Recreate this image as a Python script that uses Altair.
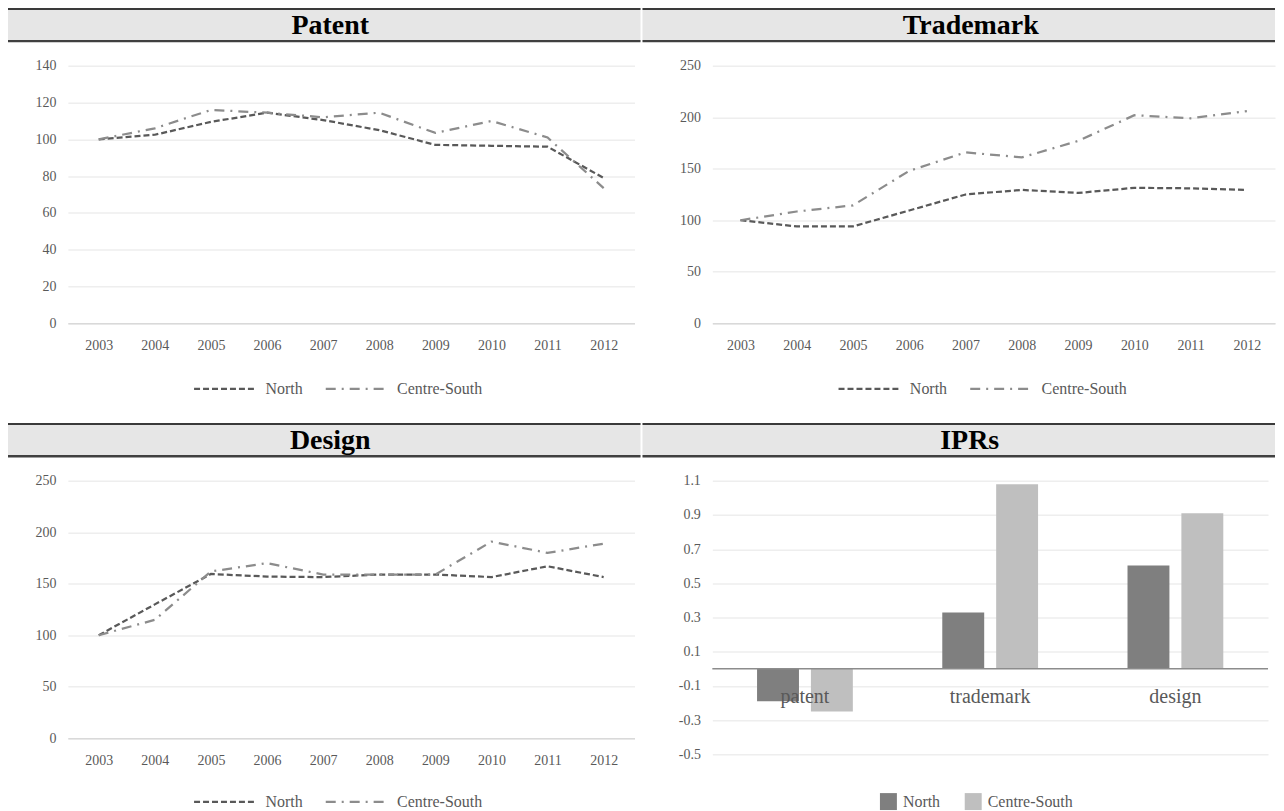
import altair as alt
import pandas as pd

years = [str(y) for y in range(2003, 2013)]
regions = ["North", "Centre-South"]

patent_north = [100, 102.5, 109.5, 114.5, 110.5, 105, 97, 96.5, 96, 79]
patent_cs = [100, 106, 116, 114.5, 112, 114.5, 103.5, 110, 101, 73.5]

trademark_north = [100, 94, 94, 109.5, 125, 129.5, 126.5, 131.5, 131, 129.5]
trademark_cs = [100, 108.5, 114.5, 148, 166, 161, 177, 202, 199, 206]

design_north = [100, 130, 159.5, 157, 156.5, 159, 159, 156.5, 167, 156.5]
design_cs = [100, 115, 162, 170, 159, 159, 159, 191, 180, 189]

categories = ["patent", "trademark", "design"]
ipr_north = [-0.19, 0.33, 0.605]
ipr_cs = [-0.25, 1.08, 0.91]
ipr_ticks = [-0.5, -0.3, -0.1, 0.1, 0.3, 0.5, 0.7, 0.9, 1.1]

FONT = "Liberation Serif"
LABEL = "#595959"
GRID = "#eeeeee"


def decor(title, L, T, W, H, title_rel):
    base = alt.Chart(pd.DataFrame({"title": [title]}))
    frame = base.mark_rect(opacity=0).encode(
        x=alt.value(-L), x2=alt.value(W - L), y=alt.value(-T), y2=alt.value(H - T))
    band = base.mark_rect(fill="#e6e6e6").encode(
        x=alt.value(-L), x2=alt.value(W - L), y=alt.value(-T), y2=alt.value(-T + 34))
    top = base.mark_rect(fill="#3a3a3a").encode(
        x=alt.value(-L), x2=alt.value(W - L), y=alt.value(-T), y2=alt.value(-T + 2))
    bot = base.mark_rect(fill="#404040").encode(
        x=alt.value(-L), x2=alt.value(W - L), y=alt.value(-T + 32), y2=alt.value(-T + 34.5))
    txt = base.mark_text(font=FONT, fontWeight="bold", fontSize=28, color="black",
                         baseline="middle", align="center").encode(
        text="title:N", x=alt.value(title_rel - L), y=alt.value(-T + 18))
    return [frame, band, top, bot, txt]


def line_panel(title, north, cs, ymax, ystep, L, T, W, H, pw, ph, pad, title_rel, leg_y):
    df = pd.DataFrame({
        "year": years * 2,
        "region": ["North"] * len(years) + ["Centre-South"] * len(years),
        "value": north + cs,
    })
    yvals = list(range(0, ymax + 1, ystep))
    leg = alt.Legend(title=None, orient="none", legendX=125, legendY=leg_y,
                     direction="horizontal", symbolType="stroke", symbolSize=3844,
                     symbolStrokeWidth=2.25, labelFont=FONT, labelFontSize=16,
                     labelColor=LABEL, labelOffset=8, columnPadding=18, padding=0)
    line = alt.Chart(df).mark_line(strokeWidth=2.25).encode(
        x=alt.X("year:O", sort=years, scale=alt.Scale(type="point", padding=pad),
                axis=alt.Axis(title=None, labelAngle=0, ticks=False, grid=False,
                              domainColor="#d9d9d9", domainWidth=1.5, labelPadding=15,
                              labelFontSize=14, labelColor=LABEL, labelFont=FONT)),
        y=alt.Y("value:Q", scale=alt.Scale(domain=[0, ymax], nice=False),
                axis=alt.Axis(title=None, values=yvals, tickCount=len(yvals),
                              domain=False, ticks=False, gridColor=GRID, gridWidth=1.5,
                              labelPadding=12, labelFontSize=14, labelColor=LABEL,
                              labelFont=FONT, labelOverlap=False)),
        color=alt.Color("region:N", scale=alt.Scale(domain=regions, range=["#595959", "#8c8c8c"]),
                        legend=leg),
        strokeDash=alt.StrokeDash("region:N", scale=alt.Scale(domain=regions,
                                                              range=[[6, 3], [10, 6, 2, 6]]),
                                  legend=leg),
    )
    layers = decor(title, L, T, W, H, title_rel) + [line]
    return alt.layer(*layers).properties(width=pw, height=ph)


def bar_panel(title, L, T, W, H, pw, ph, title_rel):
    bdf = pd.DataFrame({
        "category": categories * 2,
        "region": ["North"] * len(categories) + ["Centre-South"] * len(categories),
        "value": ipr_north + ipr_cs,
    })
    bars = alt.Chart(bdf).mark_bar().encode(
        x=alt.X("category:N", sort=categories, scale=alt.Scale(paddingInner=0, paddingOuter=0),
                axis=None),
        xOffset=alt.XOffset("region:N", sort=regions,
                            scale=alt.Scale(domain=regions, paddingInner=0.222, paddingOuter=0.83)),
        y=alt.Y("value:Q", scale=alt.Scale(domain=[-0.5, 1.1], nice=False, zero=False),
                axis=alt.Axis(title=None, values=ipr_ticks, tickCount=len(ipr_ticks),
                              domain=False, ticks=False,
                              gridColor=GRID, gridWidth=1.5, labelPadding=12,
                              labelFontSize=14, labelColor=LABEL, labelFont=FONT,
                              labelOverlap=False,
                              labelExpr="replace(format(datum.value, '.1f'), '\u2212', '-')")),
        color=alt.Color("region:N", scale=alt.Scale(domain=regions, range=["#7f7f7f", "#bfbfbf"]),
                        legend=alt.Legend(title=None, orient="none", legendX=168, legendY=313,
                                          direction="horizontal", symbolType="square",
                                          symbolSize=289, symbolStrokeWidth=0,
                                          labelFont=FONT, labelFontSize=16, labelColor=LABEL,
                                          labelOffset=6, columnPadding=24, padding=0)),
    )
    zero = alt.Chart(pd.DataFrame({"zero": [0]})).mark_rule(color="#8c8c8c", strokeWidth=1.5).encode(
        y="zero:Q")
    labels = alt.Chart(pd.DataFrame({"category": categories})).mark_text(
        dy=28, fontSize=20, font=FONT, color=LABEL, baseline="middle").encode(
        x=alt.X("category:N", sort=categories), y=alt.datum(0), text="category:N")
    layers = decor(title, L, T, W, H, title_rel) + [bars, zero, labels]
    return alt.layer(*layers).properties(width=pw, height=ph)


p1 = line_panel("Patent", patent_north, patent_cs, 140, 20, 60, 58, 634, 414, 568, 258, 0.55, 323, 291)
p2 = line_panel("Trademark", trademark_north, trademark_cs, 250, 50, 70, 58, 634, 414, 564, 258, 0.5, 329, 291)
p3 = line_panel("Design", design_north, design_cs, 250, 50, 60, 58, 634, 381, 568, 258, 0.55, 323, 289)
p4 = bar_panel("IPRs", 70, 58, 634, 381, 557, 274, 328)

row1 = alt.hconcat(p1, p2, spacing=0).resolve_scale(color="independent", strokeDash="independent")
row2 = alt.hconcat(p3, p4, spacing=0).resolve_scale(color="independent", strokeDash="independent")

chart = alt.vconcat(row1, row2, spacing=0).resolve_scale(
    color="independent", strokeDash="independent"
).properties(
    padding={"left": -1, "top": -2, "right": 0, "bottom": 0}
).configure(font=FONT).configure_view(stroke="transparent")

chart.save("out.html", embed_options={"renderer": "svg", "actions": False})
